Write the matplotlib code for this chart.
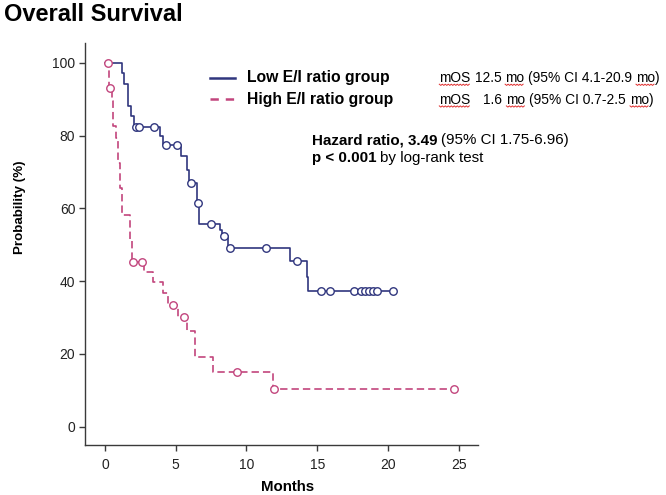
import numpy as np
import matplotlib
matplotlib.use("Agg")
import matplotlib.pyplot as plt
from matplotlib.lines import Line2D

plt.rcParams['font.family'] = ['Liberation Sans', 'DejaVu Sans']
plt.rcParams['lines.scale_dashes'] = False

# ---------------- data ----------------
low_times = [0, 1.2, 1.35, 1.6, 1.85, 2.05, 3.9, 4.07, 5.35, 5.8, 5.95, 6.48, 6.67, 8.13, 8.3, 8.67, 13.1, 14.25, 14.37]
low_surv = [100, 97.1, 94.1, 88.2, 85.3, 82.4, 79.8, 77.3, 74.4, 70.5, 66.9, 61.4, 55.6, 54.0, 52.5, 49.2, 45.5, 41.2, 37.3]
low_cens_t = [2.17, 2.4, 3.46, 4.31, 5.11, 6.05, 6.55, 7.49, 8.41, 8.83, 11.4, 13.59,
              15.3, 15.9, 17.62, 18.09, 18.37, 18.66, 18.92, 19.2, 20.35]
low_cens_s = [82.4, 82.4, 82.4, 77.3, 77.3, 66.9, 61.4, 55.6, 52.5, 49.2, 49.2, 45.5,
              37.3, 37.3, 37.3, 37.3, 37.3, 37.3, 37.3, 37.3, 37.3]

high_times = [0, 0.28, 0.5, 0.6, 0.75, 0.9, 1.05, 1.2, 1.77, 1.93, 2.78, 3.42, 4.12, 4.48, 5.18, 5.82, 6.36, 7.61, 11.85]
high_surv = [100, 93.0, 89.6, 82.7, 79.3, 72.4, 65.5, 58.1, 51.7, 45.3, 42.6, 39.8, 36.6, 33.4, 30.2, 26.4, 19.2, 15.1, 10.3]
high_cens_t = [0.21, 0.35, 2.0, 2.64, 4.78, 5.58, 9.35, 11.92, 24.66]
high_cens_s = [100, 93.0, 45.3, 45.3, 33.4, 30.2, 15.1, 10.3, 10.3]

xticks = [0, 5, 10, 15, 20, 25]
yticks = [0, 20, 40, 60, 80, 100]

low_label = "Low E/I ratio group"
high_label = "High E/I ratio group"
low_mos = "12.5"
low_ci = "(95% CI 4.1-20.9"
high_mos = "1.6"
high_ci = "(95% CI 0.7-2.5"

# ---------------- figure ----------------
W, H = 666, 495
fig = plt.figure(figsize=(W / 100, H / 100), dpi=100)

def fx(px):
    return px / W

def fy(py):
    return 1 - py / H

ax = fig.add_axes([fx(85), fy(445), (478.3 - 85) / W, (445 - 42.7) / H])

blue = '#30367e'
pink = '#c2457d'

lx = low_times + [max(low_cens_t)]
ly = low_surv + [low_surv[-1]]
ax.step(lx, ly, where='post', color=blue, lw=1.2)
ax.plot(low_cens_t, low_cens_s, 'o', ms=5.4, mfc='white', mec=blue, mew=1.0, ls='none')

hx = high_times + [max(high_cens_t)]
hy = high_surv + [high_surv[-1]]
ax.step(hx, hy, where='post', color=pink, lw=1.2, ls=(0, (5.3, 2.9)))
ax.plot(high_cens_t, high_cens_s, 'o', ms=5.4, mfc='white', mec=pink, mew=1.0, ls='none')

ax.set_xlim(-1.41, 26.38)
ax.set_ylim(-5.03, 105.5)
ax.set_xticks(xticks)
ax.set_yticks(yticks)
for s in ['top', 'right']:
    ax.spines[s].set_visible(False)
for s in ['left', 'bottom']:
    ax.spines[s].set_color('#3a3a3a')
    ax.spines[s].set_linewidth(1.0)
ax.tick_params(axis='x', direction='out', length=4.3, width=1.0, color='#3a3a3a',
               labelsize=10, pad=5, labelcolor='#222222')
ax.tick_params(axis='y', direction='out', length=4.0, width=1.0, color='#3a3a3a',
               labelsize=10, pad=3, labelcolor='#222222')

# axis labels & title
fig.text(fx(288), fy(491), "Months", fontsize=10.8, fontweight='bold', ha='center', va='baseline')
fig.text(fx(20), fy(207.5), "Probability (%)", fontsize=9.6, fontweight='bold',
         ha='center', va='center', rotation=90)
fig.text(fx(4), fy(20.7), "Overall Survival", fontsize=17, fontweight='bold', ha='left', va='baseline')

# legend handles
fig.add_artist(Line2D([fx(210), fx(235)], [fy(78.3), fy(78.3)], color=blue, lw=1.8,
                      transform=fig.transFigure))
fig.add_artist(Line2D([fx(210), fx(234)], [fy(98.7), fy(98.7)], color=pink, lw=1.8,
                      ls=(0, (6.0, 5.0)), transform=fig.transFigure))
fig.text(fx(246.7), fy(82.3), low_label, fontsize=11.3, fontweight='bold', va='baseline')
fig.text(fx(246.7), fy(104), high_label, fontsize=11.3, fontweight='bold', va='baseline')

renderer = fig.canvas.get_renderer()

def wavy(x0, x1, y_px):
    xs = np.arange(x0, x1 + 0.1, 1.5)
    ys = np.where(np.arange(len(xs)) % 2 == 0, y_px - 0.6, y_px + 0.6)
    fig.add_artist(Line2D(xs / W, 1 - ys / H, color='#e03030', lw=0.7, transform=fig.transFigure))

def runs(x_px, y_px, items, size):
    x = x_px
    for s, bold, und in items:
        lead = len(s) - len(s.lstrip(' '))
        body = s.strip(' ')
        t0 = fig.text(0, 0, 'a a', fontsize=size, fontweight='bold' if bold else 'normal')
        t1 = fig.text(0, 0, 'aa', fontsize=size, fontweight='bold' if bold else 'normal')
        sp = t0.get_window_extent(renderer).width - t1.get_window_extent(renderer).width
        t0.remove(); t1.remove()
        x += lead * sp
        t = fig.text(fx(x), fy(y_px), body, fontsize=size,
                     fontweight='bold' if bold else 'normal', va='baseline', ha='left')
        bb = t.get_window_extent(renderer)
        if und:
            wavy(x, x + bb.width, y_px + 2.5)
        x += bb.width
    return x

fs_m = 9.9
runs(439.3, 82.3, [("mOS", False, True)], fs_m)
runs(474.5, 82.3, [(low_mos, False, False), (" mo", False, True), (" " + low_ci, False, False),
                   (" mo", False, True), (")", False, False)], fs_m)
runs(439.3, 104, [("mOS", False, True)], fs_m)
runs(483.5, 104, [(high_mos, False, False), (" mo", False, True), (" " + high_ci, False, False),
                  (" mo", False, True), (")", False, False)], fs_m)

runs(311.7, 144.3, [("Hazard ratio, 3.49", True, False), (" (95% CI 1.75-6.96)", False, False)], 10.9)
runs(311.7, 162.3, [("p < 0.001", True, False), (" by log-rank test", False, False)], 10.9)

fig.savefig("out.png", dpi=100)
